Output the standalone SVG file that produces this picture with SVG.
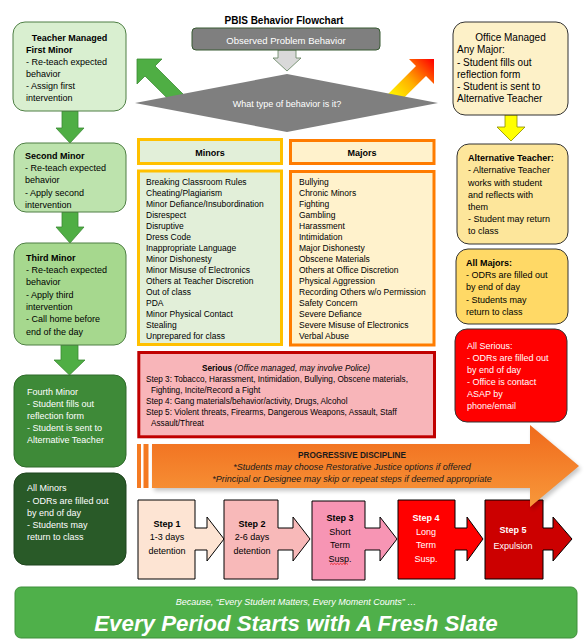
<svg xmlns="http://www.w3.org/2000/svg" width="587" height="641" viewBox="0 0 587 641">
<style>
text{font-family:"Liberation Sans",Arial,sans-serif;font-size:9px;fill:#000}
.b{font-weight:bold}
.w{fill:#fff}
.i{font-style:italic}
.m{text-anchor:middle}
.l{font-size:8.5px}
.s{font-size:8.2px}
.lb{stroke:#4f7f45;stroke-width:1}
.rb{stroke:#333;stroke-width:1}
.ga{fill:#4fae44;stroke:#3b8a33;stroke-width:0.8}
.step{stroke:#000;stroke-width:1}
</style>
<defs>
<linearGradient id="gNE" x1="392" y1="101" x2="434" y2="60" gradientUnits="userSpaceOnUse">
<stop offset="0" stop-color="#ffff00"/><stop offset="0.45" stop-color="#ffb000"/><stop offset="1" stop-color="#ff0000"/>
</linearGradient>
<linearGradient id="gOr" x1="0" y1="0" x2="0" y2="1">
<stop offset="0" stop-color="#f06a1c"/><stop offset="1" stop-color="#f8983a"/>
</linearGradient>
<filter id="blur" x="-5%" y="-20%" width="110%" height="140%"><feGaussianBlur stdDeviation="2"/></filter>
</defs>
<rect width="587" height="641" fill="#fff"/>

<g id="connectors">
<polygon points="278,50 296,50 296,58 301,58 287,71 273,58 278,58" fill="#d9d9d9" stroke="#5f7f5a" stroke-width="0.8"/>
<polygon class="ga" points="137,59 162,59 155,66 184.2,95.2 174.3,105.1 145,76 137,84"/>
<polygon points="434,59 409,59 416,66 386.8,95.2 396.7,105.1 426,76 434,84" fill="url(#gNE)"/>
<polygon class="ga" points="62,111 78,111 78,128 84,128 70,143 56,128 62,128"/>
<polygon class="ga" points="62,212 78,212 78,227 84,227 70,243 56,227 62,227"/>
<polygon class="ga" points="61,345 78,345 78,360 85,360 69.5,375 54,360 61,360"/>
<polygon points="505,115 517,115 517,127 525,127 511,141 497,127 505,127" fill="#ffff00" stroke="#8a8a00" stroke-width="0.8"/>
</g>

<g id="title"><text class="b m" x="284" y="24" style="font-size:10px">PBIS Behavior Flowchart</text></g>

<g id="observed">
<rect x="192" y="28" width="188" height="22" rx="4" fill="#7f7f7f" stroke="#385a33"/>
<text class="w m" x="286" y="43.5" style="font-size:9.5px">Observed Problem Behavior</text>
</g>

<g id="decision">
<polygon points="135,103 287,74 438,103 287,132" fill="#7f7f7f"/>
<text class="w m" x="287" y="106.5">What type of behavior is it?</text>
</g>

<g id="first-minor">
<rect x="13" y="22" width="113" height="89" rx="12" fill="#d9efd0" class="lb"/>
<text class="b m" x="69.5" y="41">Teacher Managed</text>
<text class="b" x="26" y="53">First Minor</text>
<text x="26" y="65">- Re-teach expected</text>
<text x="26" y="77">behavior</text>
<text x="26" y="89">- Assign first</text>
<text x="26" y="101">intervention</text>
</g>

<g id="second-minor">
<rect x="14" y="143" width="112" height="69" rx="12" fill="#bde3ad" class="lb"/>
<text class="b" x="25" y="159">Second Minor</text>
<text x="25" y="171">- Re-teach expected</text>
<text x="25" y="183">behavior</text>
<text x="25" y="196">- Apply second</text>
<text x="25" y="208">intervention</text>
</g>

<g id="third-minor">
<rect x="14" y="243" width="112" height="102" rx="12" fill="#a6d88e" class="lb"/>
<text class="b" x="26" y="261">Third Minor</text>
<text x="26" y="273">- Re-teach expected</text>
<text x="26" y="285">behavior</text>
<text x="26" y="298">- Apply third</text>
<text x="26" y="310">intervention</text>
<text x="26" y="322">- Call home before</text>
<text x="26" y="335">end of the day</text>
</g>

<g id="fourth-minor">
<rect x="14" y="375" width="112" height="92" rx="12" fill="#3e8a38" stroke="#2f6a2a"/>
<text class="w" x="27" y="395">Fourth Minor</text>
<text class="w" x="27" y="407">- Student fills out</text>
<text class="w" x="27" y="419">reflection form</text>
<text class="w" x="27" y="431">- Student is sent to</text>
<text class="w" x="27" y="443">Alternative Teacher</text>
</g>

<g id="all-minors">
<rect x="14" y="473" width="112" height="92" rx="12" fill="#295a28" stroke="#1f451e"/>
<text class="w" x="27" y="491">All Minors</text>
<text class="w" x="27" y="504">- ODRs are filled out</text>
<text class="w" x="27" y="516">by end of day</text>
<text class="w" x="27" y="528">- Students may</text>
<text class="w" x="27" y="540">return to class</text>
</g>

<g id="office-managed">
<rect x="453" y="22" width="115" height="93" rx="12" fill="#fdf1c8" class="rb"/>
<text class="m" x="510.5" y="41" style="font-size:10px">Office Managed</text>
<text x="457" y="53" style="font-size:10px">Any Major:</text>
<text x="457" y="65.5" style="font-size:10px">- Student fills out</text>
<text x="457" y="77.5" style="font-size:10px">reflection form</text>
<text x="457" y="89.5" style="font-size:10px">- Student is sent to</text>
<text x="457" y="102" style="font-size:10px">Alternative Teacher</text>
</g>

<g id="alternative-teacher">
<rect x="457" y="144" width="111" height="100" rx="12" fill="#fde69b" class="rb"/>
<text class="b" x="468" y="161">Alternative Teacher:</text>
<text x="468" y="173">- Alternative Teacher</text>
<text x="468" y="186">works with student</text>
<text x="468" y="198">and reflects with</text>
<text x="468" y="210">them</text>
<text x="468" y="222">- Student may return</text>
<text x="468" y="234">to class</text>
</g>

<g id="all-majors">
<rect x="456" y="249" width="112" height="75" rx="12" fill="#ffd966" class="rb"/>
<text class="b" x="466" y="266">All Majors:</text>
<text x="466" y="278">- ODRs are filled out</text>
<text x="466" y="290">by end of day</text>
<text x="466" y="303">- Students may</text>
<text x="466" y="315">return to class</text>
</g>

<g id="all-serious">
<rect x="455" y="329" width="112" height="93" rx="12" fill="#ff0000" class="rb"/>
<text class="w" x="467" y="349">All Serious:</text>
<text class="w" x="467" y="361">- ODRs are filled out</text>
<text class="w" x="467" y="373">by end of day</text>
<text class="w" x="467" y="385">- Office is contact</text>
<text class="w" x="467" y="397">ASAP by</text>
<text class="w" x="467" y="409">phone/email</text>
</g>

<g id="minors">
<rect x="138.5" y="139.5" width="143" height="24" fill="#e2efd9" stroke="#ffc000" stroke-width="3"/>
<text class="b m" x="210" y="156">Minors</text>
<rect x="138.5" y="171" width="143" height="173.5" fill="#e2efd9" stroke="#ffc000" stroke-width="3"/>
<text class="l" x="146" y="185">Breaking Classroom Rules</text>
<text class="l" x="146" y="196">Cheating/Plagiarism</text>
<text class="l" x="146" y="207">Minor Defiance/Insubordination</text>
<text class="l" x="146" y="218">Disrespect</text>
<text class="l" x="146" y="229">Disruptive</text>
<text class="l" x="146" y="240">Dress Code</text>
<text class="l" x="146" y="251">Inappropriate Language</text>
<text class="l" x="146" y="262">Minor Dishonesty</text>
<text class="l" x="146" y="273">Minor Misuse of Electronics</text>
<text class="l" x="146" y="284">Others at Teacher Discretion</text>
<text class="l" x="146" y="295">Out of class</text>
<text class="l" x="146" y="306">PDA</text>
<text class="l" x="146" y="317">Minor Physical Contact</text>
<text class="l" x="146" y="328">Stealing</text>
<text class="l" x="146" y="339">Unprepared for class</text>
</g>

<g id="majors">
<rect x="290.5" y="140.5" width="143.5" height="23" fill="#fff2cc" stroke="#ff7c00" stroke-width="3"/>
<text class="b m" x="362" y="156">Majors</text>
<rect x="290.5" y="171.5" width="143.5" height="173.5" fill="#fff2cc" stroke="#ff7c00" stroke-width="3"/>
<text class="l" x="299" y="185">Bullying</text>
<text class="l" x="299" y="196">Chronic Minors</text>
<text class="l" x="299" y="207">Fighting</text>
<text class="l" x="299" y="218">Gambling</text>
<text class="l" x="299" y="229">Harassment</text>
<text class="l" x="299" y="240">Intimidation</text>
<text class="l" x="299" y="251">Major Dishonesty</text>
<text class="l" x="299" y="262">Obscene Materials</text>
<text class="l" x="299" y="273">Others at Office Discretion</text>
<text class="l" x="299" y="284">Physical Aggression</text>
<text class="l" x="299" y="295">Recording Others w/o Permission</text>
<text class="l" x="299" y="306">Safety Concern</text>
<text class="l" x="299" y="317">Severe Defiance</text>
<text class="l" x="299" y="328">Severe Misuse of Electronics</text>
<text class="l" x="299" y="339">Verbal Abuse</text>
</g>

<g id="serious">
<rect x="138.8" y="352.5" width="295.7" height="84.3" fill="#f8b5b9" stroke="#c00000" stroke-width="3"/>
<text class="s m" x="286" y="371"><tspan class="b">Serious</tspan><tspan class="i"> (Office managed, may involve Police)</tspan></text>
<text class="s" x="146" y="381.5">Step 3: Tobacco, Harassment, Intimidation, Bullying, Obscene materials,</text>
<text class="s" x="151" y="392.5">Fighting, Incite/Record a Fight</text>
<text class="s" x="146" y="403.5">Step 4: Gang materials/behavior/activity, Drugs, Alcohol</text>
<text class="s" x="146" y="414.5">Step 5: Violent threats, Firearms, Dangerous Weapons, Assault, Staff</text>
<text class="s" x="151" y="425.5">Assault/Threat</text>
</g>

<g id="step1">
<polygon class="step" fill="#fde4d3" points="138,500 195,500 195,528 207,528 207,517 224,539 207,561 207,550 195,550 195,579 138,579"/>
<text class="b m" x="167" y="527">Step 1</text>
<text class="m" x="167" y="540">1-3 days</text>
<text class="m" x="167" y="554">detention</text>
</g>
<g id="step2">
<polygon class="step" fill="#f8b9b9" points="224,500 278,500 278,528 293,528 293,517 310,539 293,561 293,550 278,550 278,579 224,579"/>
<text class="b m" x="252" y="527">Step 2</text>
<text class="m" x="252" y="540">2-6 days</text>
<text class="m" x="252" y="554">detention</text>
</g>
<g id="step3">
<polygon class="step" fill="#f795b4" points="312,501 365,501 365,528 380,528 380,517 397,539 380,561 380,550 365,550 365,580 312,580"/>
<text class="b m" x="340" y="521">Step 3</text>
<text class="m" x="340" y="535">Short</text>
<text class="m" x="340" y="548">Term</text>
<text class="m" x="340" y="562">Susp.</text>
<path d="M330,564.5 l1.5,-1.2 l1.5,1.2 l1.5,-1.2 l1.5,1.2 l1.5,-1.2 l1.5,1.2 l1.5,-1.2 l1.5,1.2 l1.5,-1.2 l1.5,1.2 l1.5,-1.2 l1.5,1.2" fill="none" stroke="#e00000" stroke-width="0.7"/>
</g>
<g id="step4">
<polygon class="step" fill="#ff0000" points="398,500 455,500 455,528 467,528 467,517 483,539 467,561 467,550 455,550 455,579 398,579"/>
<text class="b m w" x="426" y="521">Step 4</text>
<text class="m w" x="426" y="535">Long</text>
<text class="m w" x="426" y="548">Term</text>
<text class="m w" x="426" y="562">Susp.</text>
</g>
<g id="step5">
<polygon class="step" fill="#cc0000" points="485,500 543,500 543,528 553,528 553,517 572,539 553,561 553,550 543,550 543,579 485,579"/>
<text class="b m w" x="513" y="533">Step 5</text>
<text class="m w" x="513" y="549">Expulsion</text>
</g>

<g id="progressive">
<polygon points="154,447 532,447 532,428 581,469 532,510 532,491 154,491" fill="#000" opacity="0.22" filter="url(#blur)"/>
<rect x="137" y="444" width="4" height="44" fill="#f47a22"/>
<rect x="143.5" y="444" width="5" height="44" fill="#f47a22"/>
<polygon points="152,444 530,444 530,425 579,466 530,507 530,488 152,488" fill="url(#gOr)"/>
<text class="b m" x="352" y="458" style="font-size:8.2px;fill:#1a1a1a">PROGRESSIVE DISCIPLINE</text>
<text class="i m" x="352" y="470" style="font-size:9px;fill:#1a1a1a">*Students may choose Restorative  Justice options  if offered</text>
<text class="i m" x="352" y="481.5" style="font-size:9px;fill:#1a1a1a">*Principal  or Designee may skip or repeat steps if deemed appropriate</text>
</g>

<g id="banner">
<rect x="15" y="587" width="562" height="51" rx="6" fill="#4fb04a" stroke="#3f8f3a"/>
<text class="i m w" x="296" y="605">Because, “Every Student Matters, Every Moment Counts” …</text>
<text class="b i m w" x="296" y="631" style="font-size:22.3px">Every Period Starts with A Fresh Slate</text>
</g>
</svg>
